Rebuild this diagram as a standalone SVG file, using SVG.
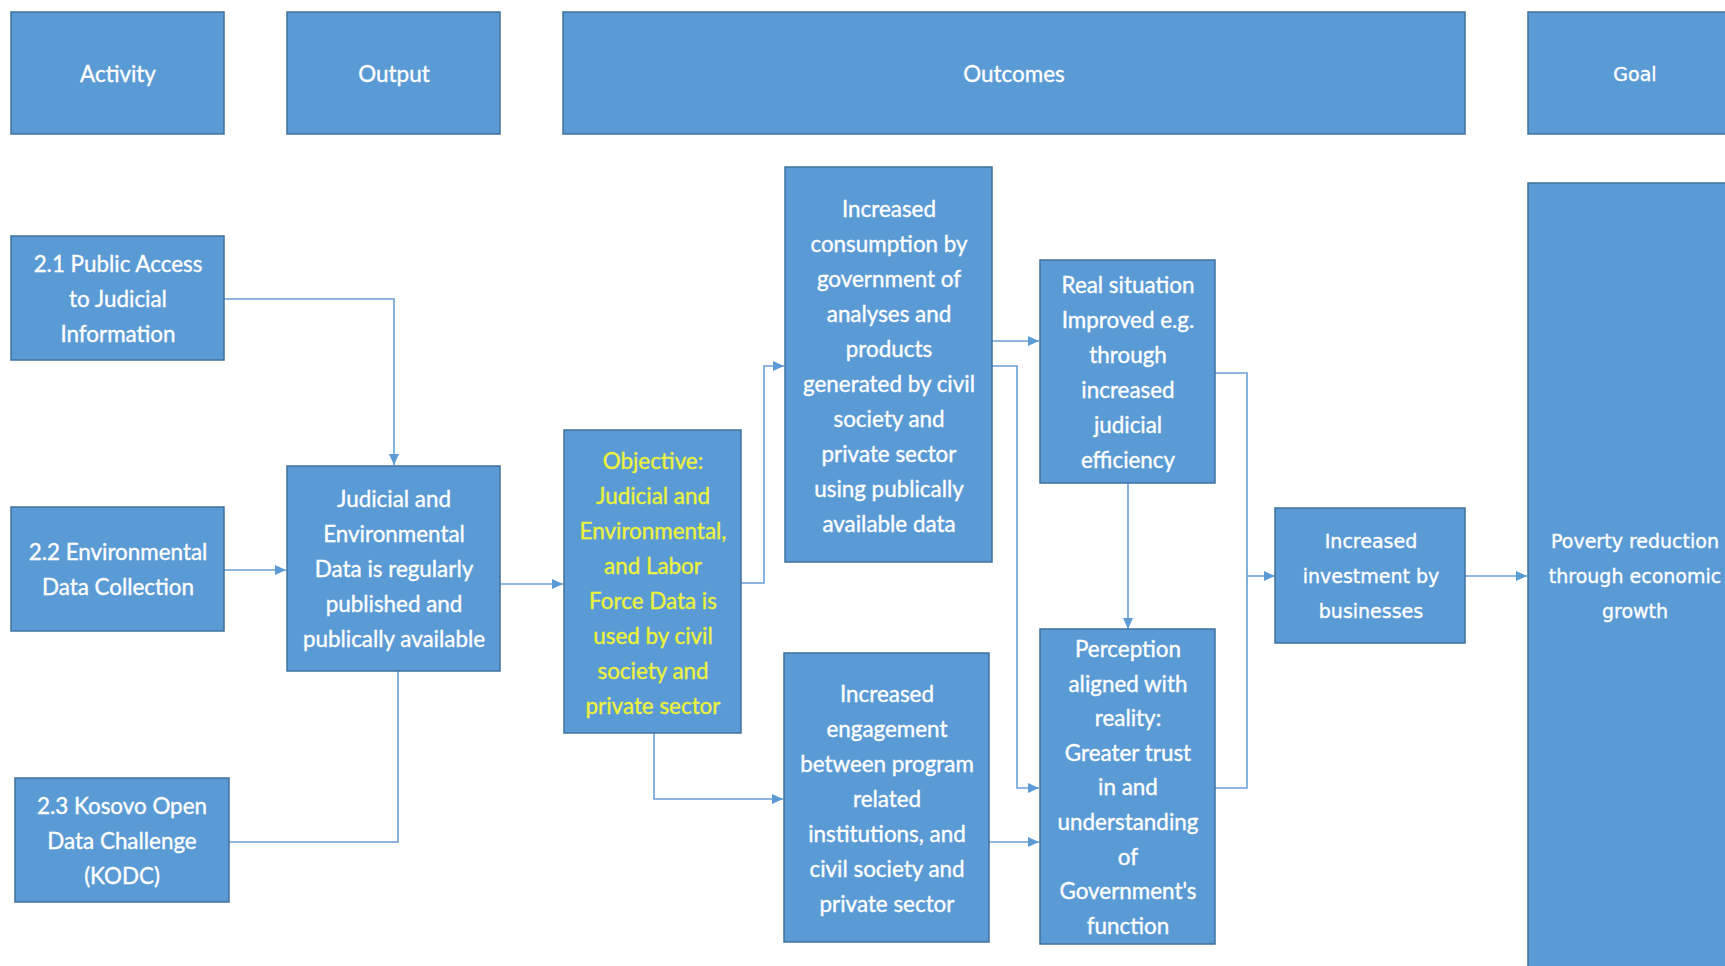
<svg xmlns="http://www.w3.org/2000/svg" width="1725" height="966" viewBox="0 0 1725 966">
<defs>
<style>
.box{fill:#5B9BD5;stroke:#41719C;stroke-width:1.5}
.t{font-family:Lato,"Open Sans","Liberation Sans",sans-serif;font-size:22.4px;fill:#FFFFFF;stroke:#FFFFFF;stroke-width:0.35;text-anchor:middle}
.y{fill:#ECF23C;stroke:#ECF23C}
.v{font-family:"DejaVu Sans","Liberation Sans",sans-serif;font-size:19px;fill:#FFFFFF;stroke:#FFFFFF;stroke-width:0.35;text-anchor:middle}
.c{fill:none;stroke:#6A9FD6;stroke-width:1.6}
.a{marker-end:url(#arr)}
</style>
<marker id="arr" markerUnits="userSpaceOnUse" markerWidth="12" markerHeight="12" viewBox="0 0 12 12" refX="11" refY="6" orient="auto">
<path d="M0,1 L11,6 L0,11 Z" fill="#5B9BD5"/>
</marker>
</defs>
<rect width="1725" height="966" fill="#FFFFFF"/>

<g id="connectors">
<path class="c a" d="M224,299 H394 V465"/>
<path class="c a" d="M224,570 H286"/>
<path class="c" d="M229,842 H398 V671"/>
<path class="c a" d="M500,584 H563"/>
<path class="c a" d="M741,583 H764 V366 H784"/>
<path class="c a" d="M654,733 V799 H783"/>
<path class="c a" d="M992,341 H1039"/>
<path class="c a" d="M992,366 H1017 V788 H1039"/>
<path class="c a" d="M1128,483 V629"/>
<path class="c a" d="M989,842 H1039"/>
<path class="c" d="M1215,373 H1247 V788 H1215"/>
<path class="c a" d="M1247,576 H1275"/>
<path class="c a" d="M1465,576 H1527"/>
</g>

<g id="h-activity"><rect class="box" x="11" y="12" width="213" height="122"/><text class="t" x="118" y="82">Activity</text></g>
<g id="h-output"><rect class="box" x="287" y="12" width="213" height="122"/><text class="t" x="394" y="82">Output</text></g>
<g id="h-outcomes"><rect class="box" x="563" y="12" width="902" height="122"/><text class="t" x="1014" y="82">Outcomes</text></g>
<g id="h-goal"><rect class="box" x="1528" y="12" width="205" height="122"/><text class="v" x="1635" y="81">Goal</text></g>

<g id="a21"><rect class="box" x="11" y="236" width="213" height="124"/>
<text class="t" x="118" y="272"><tspan x="118">2.1 Public Access</tspan><tspan x="118" dy="35">to Judicial</tspan><tspan x="118" dy="35">Information</tspan></text></g>

<g id="a22"><rect class="box" x="11" y="507" width="213" height="124"/>
<text class="t" x="118" y="560"><tspan x="118">2.2 Environmental</tspan><tspan x="118" dy="35">Data Collection</tspan></text></g>

<g id="a23"><rect class="box" x="15" y="778" width="214" height="124"/>
<text class="t" x="122" y="814"><tspan x="122">2.3 Kosovo Open</tspan><tspan x="122" dy="35">Data Challenge</tspan><tspan x="122" dy="35">(KODC)</tspan></text></g>

<g id="output"><rect class="box" x="287" y="466" width="213" height="205"/>
<text class="t" x="394" y="507"><tspan x="394">Judicial and</tspan><tspan x="394" dy="35">Environmental</tspan><tspan x="394" dy="35">Data is regularly</tspan><tspan x="394" dy="35">published and</tspan><tspan x="394" dy="35">publically available</tspan></text></g>

<g id="objective"><rect class="box" x="564" y="430" width="177" height="303"/>
<text class="t y" x="653" y="469"><tspan x="653">Objective:</tspan><tspan x="653" dy="35">Judicial and</tspan><tspan x="653" dy="35">Environmental,</tspan><tspan x="653" dy="35">and Labor</tspan><tspan x="653" dy="35">Force Data is</tspan><tspan x="653" dy="35">used by civil</tspan><tspan x="653" dy="35">society  and</tspan><tspan x="653" dy="35">private sector</tspan></text></g>

<g id="consumption"><rect class="box" x="785" y="167" width="207" height="395"/>
<text class="t" x="889" y="217"><tspan x="889">Increased</tspan><tspan x="889" dy="35">consumption by</tspan><tspan x="889" dy="35">government of</tspan><tspan x="889" dy="35">analyses and</tspan><tspan x="889" dy="35">products</tspan><tspan x="889" dy="35">generated by civil</tspan><tspan x="889" dy="35">society and</tspan><tspan x="889" dy="35">private sector</tspan><tspan x="889" dy="35">using publically</tspan><tspan x="889" dy="35">available data</tspan></text></g>

<g id="real"><rect class="box" x="1040" y="260" width="175" height="223"/>
<text class="t" x="1128" y="293"><tspan x="1128">Real situation</tspan><tspan x="1128" dy="35">Improved e.g.</tspan><tspan x="1128" dy="35">through</tspan><tspan x="1128" dy="35">increased</tspan><tspan x="1128" dy="35">judicial</tspan><tspan x="1128" dy="35">efficiency</tspan></text></g>

<g id="engagement"><rect class="box" x="784" y="653" width="205" height="289"/>
<text class="t" x="887" y="702"><tspan x="887">Increased</tspan><tspan x="887" dy="35">engagement</tspan><tspan x="887" dy="35">between program</tspan><tspan x="887" dy="35">related</tspan><tspan x="887" dy="35">institutions, and</tspan><tspan x="887" dy="35">civil society and</tspan><tspan x="887" dy="35">private sector</tspan></text></g>

<g id="perception"><rect class="box" x="1040" y="629" width="175" height="315"/>
<text class="t" x="1128" y="657"><tspan x="1128">Perception</tspan><tspan x="1128" dy="34.6">aligned with</tspan><tspan x="1128" dy="34.6">reality:</tspan><tspan x="1128" dy="34.6">Greater trust</tspan><tspan x="1128" dy="34.6">in and</tspan><tspan x="1128" dy="34.6">understanding</tspan><tspan x="1128" dy="34.6">of</tspan><tspan x="1128" dy="34.6">Government's</tspan><tspan x="1128" dy="34.6">function</tspan></text></g>

<g id="investment"><rect class="box" x="1275" y="508" width="190" height="135"/>
<text class="v" x="1371" y="548"><tspan x="1371">Increased</tspan><tspan x="1371" dy="35">investment by</tspan><tspan x="1371" dy="35">businesses</tspan></text></g>

<g id="poverty"><rect class="box" x="1528" y="183" width="205" height="800"/>
<text class="v" x="1635" y="548"><tspan x="1635">Poverty reduction</tspan><tspan x="1635" dy="35">through economic</tspan><tspan x="1635" dy="35">growth</tspan></text></g>
</svg>
